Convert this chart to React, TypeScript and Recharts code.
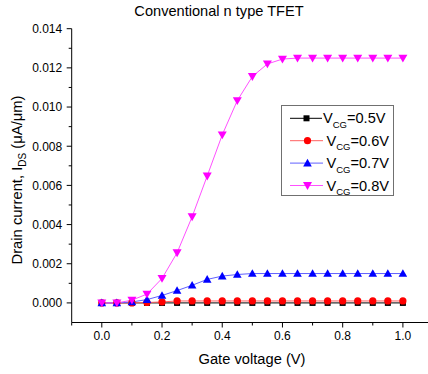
import React from 'react';
import { LineChart, Line, XAxis, YAxis } from 'recharts';

const gateVoltage = [0, 0.05, 0.1, 0.15, 0.2, 0.25, 0.3, 0.35, 0.4, 0.45, 0.5, 0.55, 0.6, 0.65, 0.7, 0.75, 0.8, 0.85, 0.9, 0.95, 1.0];
const vcg05 = [0, 0, 0, 0, 0, 0, 0, 0, 0, 0, 0, 0, 0, 0, 0, 0, 0, 0, 0, 0, 0];
const vcg06 = [0, 0, 0, 0.00002, 0.00005, 0.0001, 0.0001, 0.0001, 0.0001, 0.0001, 0.0001, 0.0001, 0.0001, 0.0001, 0.0001, 0.0001, 0.0001, 0.0001, 0.0001, 0.0001, 0.0001];
const vcg07 = [0, 0, 0.00005, 0.00017, 0.00038, 0.00063, 0.0009, 0.0012, 0.00137, 0.00145, 0.0015, 0.0015, 0.0015, 0.0015, 0.0015, 0.0015, 0.0015, 0.0015, 0.0015, 0.0015, 0.0015];
const vcg08 = [0, 0, 0.00014, 0.00045, 0.00125, 0.00256, 0.0044, 0.00648, 0.00858, 0.01033, 0.01156, 0.0122, 0.01245, 0.0125, 0.0125, 0.0125, 0.0125, 0.0125, 0.0125, 0.0125, 0.0125];

const seriesLabels = ['=0.5V', '=0.6V', '=0.7V', '=0.8V'];
const xTicks = [-0.1, 0, 0.1, 0.2, 0.3, 0.4, 0.5, 0.6, 0.7, 0.8, 0.9, 1.0, 1.1];
const yTicks = [-0.001, 0, 0.001, 0.002, 0.003, 0.004, 0.005, 0.006, 0.007, 0.008, 0.009, 0.01, 0.011, 0.012, 0.013, 0.014];

const FONT = '"Liberation Sans", Arial, sans-serif';

const data = gateVoltage.map((v, i) => ({ v, a: vcg05[i], b: vcg06[i], c: vcg07[i], d: vcg08[i] }));

const Square = (p: any) => <rect key={p.key} x={p.cx - 3} y={p.cy - 3} width={6} height={6} fill="#000" />;
const Dot = (p: any) => <circle key={p.key} cx={p.cx} cy={p.cy} r={3.6} fill="#ff0000" />;
const TriUp = (p: any) => (
  <polygon key={p.key} points={`${p.cx},${p.cy - 4.3} ${p.cx - 4.3},${p.cy + 3.3} ${p.cx + 4.3},${p.cy + 3.3}`} fill="#0000ff" />
);
const TriDown = (p: any) => (
  <polygon key={p.key} points={`${p.cx - 4.5},${p.cy - 3.4} ${p.cx + 4.5},${p.cy - 3.4} ${p.cx},${p.cy + 4.4}`} fill="#ff00ff" />
);

const XTick = (props: any) => {
  const { x, y, payload } = props;
  const v = payload.value;
  const major = Math.round(v * 10) % 2 === 0;
  return (
    <g>
      <line x1={x} x2={x} y1={y} y2={y + (major ? 5 : 3)} stroke="#000" />
      {major && (
        <text x={x} y={y + 17.5} textAnchor="middle" fontFamily={FONT} fontSize={12} fill="#000">
          {v.toFixed(1)}
        </text>
      )}
    </g>
  );
};

const YTick = (props: any) => {
  const { x, y, payload } = props;
  const v = payload.value;
  const k = Math.round(v * 1000);
  const major = k % 2 === 0;
  if (k < 0) return <g />;
  return (
    <g>
      <line x1={x} x2={x - (major ? 5 : 3)} y1={y} y2={y} stroke="#000" />
      {major && (
        <text x={x - 9.5} y={y + 4.3} textAnchor="end" fontFamily={FONT} fontSize={12} fill="#000">
          {v.toFixed(3)}
        </text>
      )}
    </g>
  );
};

const legendRows = [
  { line: '#000000', Marker: Square },
  { line: '#ff6060', Marker: Dot },
  { line: '#6060ff', Marker: TriUp },
  { line: '#ff50ff', Marker: TriDown },
];

export default function App() {
  return (
    <div style={{ position: 'absolute', left: 0, top: 0, width: 428, height: 374, overflow: 'hidden', background: '#fff' }}>
      <LineChart width={440} height={374} data={data} margin={{ top: 28.7, right: 7, left: 11.7, bottom: 21.5 }}>
        <XAxis
          type="number"
          dataKey="v"
          domain={[-0.1, 1.1]}
          ticks={xTicks}
          interval={0}
          tickSize={0}
          tickMargin={0}
          tickLine={false}
          tick={XTick}
          axisLine={{ stroke: '#000' }}
          allowDataOverflow
          height={30}
        />
        <YAxis
          type="number"
          domain={[-0.001, 0.014]}
          ticks={yTicks}
          interval={0}
          tickSize={0}
          tickMargin={0}
          tickLine={false}
          tick={YTick}
          axisLine={{ stroke: '#000' }}
          allowDataOverflow
          width={60}
        />
        <Line type="linear" dataKey="a" stroke="#000" strokeWidth={1} dot={Square} isAnimationActive={false} />
        <Line type="linear" dataKey="b" stroke="#ff6060" strokeWidth={1} dot={Dot} isAnimationActive={false} />
        <Line type="linear" dataKey="c" stroke="#6060ff" strokeWidth={1} dot={TriUp} isAnimationActive={false} />
        <Line type="linear" dataKey="d" stroke="#ff50ff" strokeWidth={1} dot={TriDown} isAnimationActive={false} />
      </LineChart>
      <svg width={428} height={374} style={{ position: 'absolute', left: 0, top: 0, pointerEvents: 'none' }}>
        <text x={219} y={16} textAnchor="middle" fontFamily={FONT} fontSize={14.6} fill="#000">
          Conventional n type TFET
        </text>
        <text x={252} y={364} textAnchor="middle" fontFamily={FONT} fontSize={14.7} fill="#000">
          Gate voltage (V)
        </text>
        <text transform="rotate(-90)" x={-180} y={22} textAnchor="middle" fontFamily={FONT} fontSize={14.8} fill="#000">
          Drain current, I<tspan fontSize={10} dy={4}>DS</tspan>
          <tspan dy={-4}> (μA/μm)</tspan>
        </text>
        <rect x={281.5} y={105.5} width={112} height={90} fill="#fff" stroke="#707070" strokeWidth={1} />
        {legendRows.map((r, i) => {
          const cy = 118.3 + i * 22.4;
          const M = r.Marker;
          const tx = i === 0 ? 323 : 326.5;
          return (
            <g key={i}>
              <line x1={290} x2={i === 0 ? 322 : 323} y1={cy} y2={cy} stroke={r.line} strokeWidth={1} />
              <M cx={i === 0 ? 306.5 : 307.5} cy={cy} />
              <text x={tx} y={cy + 5} fontFamily={FONT} fontSize={14.6} fill="#000">
                V<tspan fontSize={9.5} dy={4.5}>CG</tspan>
                <tspan dy={-4.5}>{seriesLabels[i]}</tspan>
              </text>
            </g>
          );
        })}
      </svg>
    </div>
  );
}
